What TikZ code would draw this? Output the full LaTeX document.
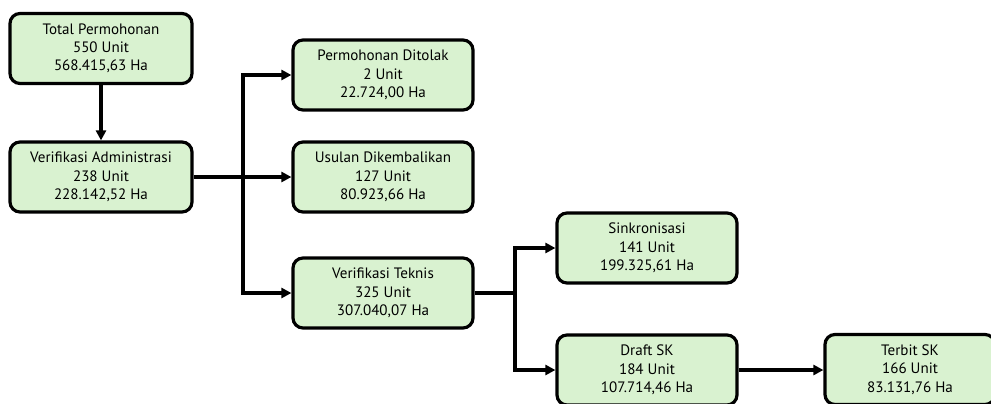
\documentclass[tikz,border=0pt]{standalone}
\usepackage{fontspec}
\setmainfont{PT Sans}
\usetikzlibrary{arrows.meta}
\definecolor{boxfill}{HTML}{D9F2D0}
\tikzset{
  box/.style={draw=black, line width=2.4pt, rounded corners=7.5pt, fill=boxfill,
    minimum width=135pt, minimum height=52.5pt, align=center, inner sep=2pt,
    font=\fontsize{11.3}{13.7}\selectfont},
  conn/.style={line width=2.6pt},
  arr/.style={conn, -{Triangle[length=7.5pt,width=7.5pt]}}
}
\begin{document}
\begin{tikzpicture}[x=0.75pt,y=-0.75pt]
\useasboundingbox (0,0) rectangle (991,403);
\node[box, minimum width=136.5pt] (tot) at (101,48.5) {Total Permohonan\\550 Unit\\568.415,63 Ha};
\node[box, minimum width=136.5pt] (adm) at (101,177) {Verifikasi Administrasi\\238 Unit\\228.142,52 Ha};
\node[box] (tol) at (383,75) {Permohonan Ditolak\\2 Unit\\22.724,00 Ha};
\node[box] (usl) at (383,177) {Usulan Dikembalikan\\127 Unit\\80.923,66 Ha};
\node[box] (tek) at (383,293) {Verifikasi Teknis\\325 Unit\\307.040,07 Ha};
\node[box] (sin) at (647,248) {Sinkronisasi\\141 Unit\\199.325,61 Ha};
\node[box] (drf) at (647,370) {Draft SK\\184 Unit\\107.714,46 Ha};
\node[box, minimum width=127.5pt] (ter) at (910,369.5) {Terbit SK\\166 Unit\\83.131,76 Ha};
\coordinate (j1) at (243,177);
\coordinate (j2) at (515,293);
\draw[arr] (tot) -- (adm);
\draw[arr] (adm.east) -- (usl.west);
\draw[arr] (j1) |- (tol.west);
\draw[arr] (j1) |- (tek.west);
\draw[conn] (tek.east) -- (j2);
\draw[arr] (j2) |- (sin.west);
\draw[arr] (j2) |- (drf.west);
\draw[arr] (drf.east) -- (drf.east -| ter.west);
\end{tikzpicture}
\end{document}
